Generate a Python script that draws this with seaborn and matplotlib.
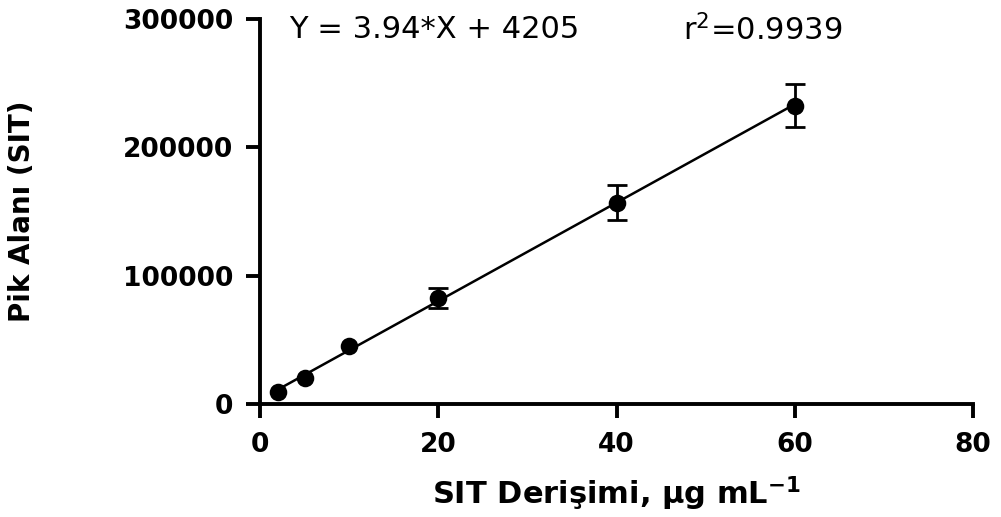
import numpy as np
import pandas as pd
import matplotlib
matplotlib.use("Agg")
import matplotlib.pyplot as plt
import seaborn as sns

# Calibration data: concentration (µg/mL), mean peak area and SD
conc = [2, 5, 10, 20, 40, 60]
area = [9500, 20000, 45000, 82500, 157000, 232500]
sd = [0, 0, 0, 8000, 13500, 17000]

x_ticks = [0, 20, 40, 60, 80]
y_ticks = [0, 100000, 200000, 300000]

equation = "Y = 3.94*X + 4205"
r2_text = "r$^2$=0.9939"

sns.set_style("ticks")
plt.rcParams["font.family"] = ["DejaVu Sans"]
plt.rcParams["mathtext.fontset"] = "dejavusans"
plt.rcParams["mathtext.default"] = "regular"
plt.rcParams["text.color"] = "black"
plt.rcParams["axes.labelcolor"] = "black"

df = pd.DataFrame({"conc": conc, "area": area, "sd": sd})

fig = plt.figure(figsize=(10.01, 5.17), dpi=100)
ax = fig.add_axes([260 / 1001, 1 - 404 / 517, (973 - 260) / 1001, (404 - 19) / 517])

# Linear fit over the calibration range
sns.regplot(data=df, x="conc", y="area", ax=ax, ci=None, scatter=False,
            truncate=True, line_kws=dict(color="black", lw=1.8))

err = df[df["sd"] > 0]
ax.errorbar(err["conc"], err["area"], yerr=err["sd"], fmt="none",
            ecolor="black", elinewidth=2.0, capsize=7, capthick=2.0, zorder=3)

sns.scatterplot(data=df, x="conc", y="area", ax=ax, color="black", s=160,
                edgecolor="black", linewidth=0, zorder=4, clip_on=False)

ax.set_xlim(0, 80)
ax.set_ylim(0, 300000)
ax.set_xticks(x_ticks)
ax.set_yticks(y_ticks)
ax.set_xticklabels([str(t) for t in x_ticks], fontsize=19, fontweight="bold")
ax.set_yticklabels([str(t) for t in y_ticks], fontsize=19, fontweight="bold")

sns.despine(ax=ax)
for side in ["left", "bottom"]:
    ax.spines[side].set_linewidth(2.8)
    ax.spines[side].set_color("black")
ax.tick_params(axis="both", length=10, width=2.8, colors="black")
ax.tick_params(axis="y", pad=9)
ax.tick_params(axis="x", pad=10)

ax.set_xlabel("SIT Derişimi, µg mL$^{\\mathbf{-1}}$", fontsize=22, fontweight="bold",
              labelpad=12, color="black")
ax.set_ylabel("Pik Alanı (SIT)", fontsize=20, fontweight="bold", labelpad=63,
              color="black")

ax.text(0.041, 0.972, equation, transform=ax.transAxes, fontsize=22,
        ha="left", va="center", color="black")
ax.text(0.593, 0.972, r2_text, transform=ax.transAxes, fontsize=22,
        ha="left", va="center", color="black")

fig.savefig("out.png", dpi=100)
